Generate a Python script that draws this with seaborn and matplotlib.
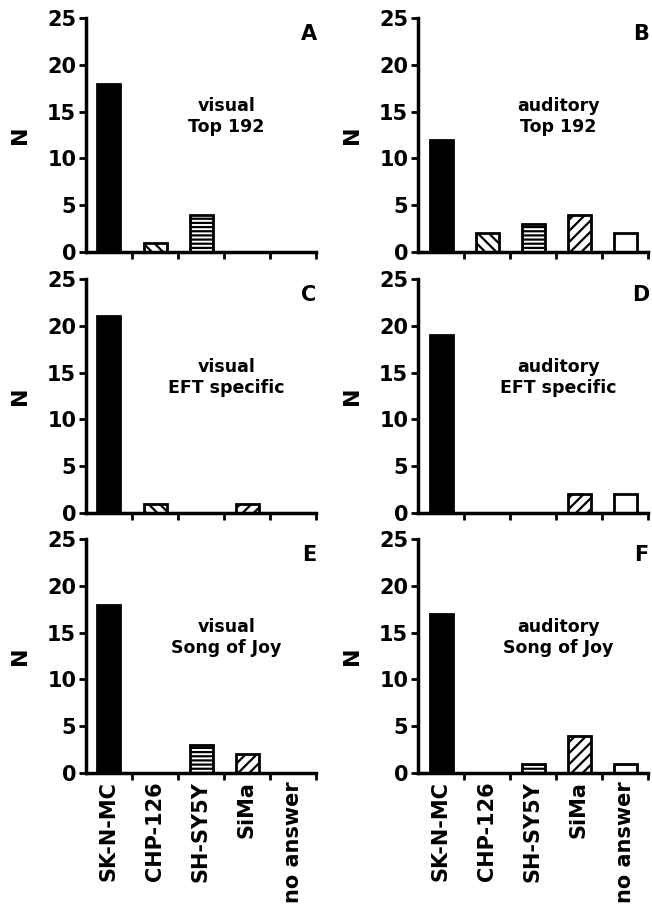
"""
Six-panel bar chart: cell line identification, visual vs auditory
"""

import matplotlib
matplotlib.use("Agg")
import matplotlib.pyplot as plt
import seaborn as sns

# Data
cell_lines = ["SK-N-MC", "CHP-126", "SH-SY5Y", "SiMa", "no answer"]

visual_top192 = [18, 1, 4, 0, 0]
auditory_top192 = [12, 2, 3, 4, 2]
visual_eft = [21, 1, 0, 1, 0]
auditory_eft = [19, 0, 0, 2, 2]
visual_joy = [18, 0, 3, 2, 0]
auditory_joy = [17, 0, 1, 4, 1]

panel_letters = ["A", "B", "C", "D", "E", "F"]
panel_titles = [
    "visual\nTop 192",
    "auditory\nTop 192",
    "visual\nEFT specific",
    "auditory\nEFT specific",
    "visual\nSong of Joy",
    "auditory\nSong of Joy",
]
y_ticks = [0, 5, 10, 15, 20, 25]

# Bar styles per cell line
bar_faces = ["black", "white", "white", "white", "white"]
bar_hatches = [None, "\\\\\\", "----", "///", None]

sns.set_theme(style="white")
plt.rcParams["font.family"] = ["DejaVu Sans"]
plt.rcParams["font.weight"] = "bold"
plt.rcParams["text.color"] = "black"
plt.rcParams["axes.labelcolor"] = "black"
plt.rcParams["xtick.color"] = "black"
plt.rcParams["ytick.color"] = "black"
plt.rcParams["hatch.linewidth"] = 1.6
plt.rcParams["hatch.color"] = "black"


def draw_panel(ax, values, letter, title, show_labels):
    sns.barplot(
        x=cell_lines,
        y=values,
        ax=ax,
        color="white",
        edgecolor="black",
        linewidth=2,
        width=0.5,
    )
    for patch, face, hatch in zip(ax.patches, bar_faces, bar_hatches):
        patch.set_facecolor(face)
        if hatch:
            patch.set_hatch(hatch)

    ax.set_ylim(0, 25)
    ax.set_xlim(-0.5, 4.5)
    ax.set_yticks(y_ticks)
    ax.set_yticklabels([str(t) for t in y_ticks], fontsize=15, fontweight="bold")
    ax.set_ylabel("N", fontsize=16, fontweight="bold", labelpad=12)
    ax.set_xlabel("")

    # boundaries between categories carry the tick marks
    ax.set_xticks([0.5, 1.5, 2.5, 3.5, 4.5], minor=True)
    ax.set_xticks(range(len(cell_lines)))
    if show_labels:
        ax.set_xticklabels(cell_lines, rotation=90, fontsize=15, fontweight="bold")
    else:
        ax.set_xticklabels([])
    ax.tick_params(axis="x", which="major", length=0, pad=6)
    ax.tick_params(axis="x", which="minor", length=5, width=2, direction="out",
                   bottom=True)
    ax.tick_params(axis="y", length=5, width=2, direction="out", left=True, pad=2)

    for side in ["top", "right"]:
        ax.spines[side].set_visible(False)
    for side in ["left", "bottom"]:
        ax.spines[side].set_linewidth(2.5)
        ax.spines[side].set_color("black")

    ax.text(0.97, 0.93, letter, transform=ax.transAxes, fontsize=15,
            fontweight="bold", ha="center", va="center")
    ax.text(0.61, 0.58, title, transform=ax.transAxes, fontsize=12.5,
            fontweight="bold", ha="center", va="center", linespacing=1.2)


def main():
    fig = plt.figure(figsize=(6.52, 9.21), dpi=100)

    all_values = [visual_top192, auditory_top192, visual_eft,
                  auditory_eft, visual_joy, auditory_joy]
    lefts = [86 / 652, 418 / 652]
    bottoms = [1 - 252 / 921, 1 - 513 / 921, 1 - 773 / 921]
    width = 230 / 652
    height = 234 / 921

    for i, values in enumerate(all_values):
        row, col = divmod(i, 2)
        ax = fig.add_axes([lefts[col], bottoms[row], width, height])
        draw_panel(ax, values, panel_letters[i], panel_titles[i], row == 2)

    fig.savefig("out.png", dpi=100)
    plt.close(fig)


if __name__ == "__main__":
    main()
